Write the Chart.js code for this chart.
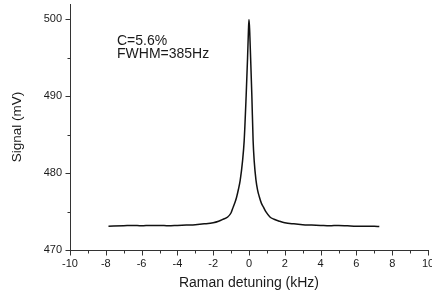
<!DOCTYPE html>
<html><head><meta charset="utf-8">
<script src="https://cdn.jsdelivr.net/npm/chart.js@4"></script>
<style>html,body{margin:0;padding:0;overflow:hidden;background:#fff}</style>
</head><body>
<canvas id="c" width="432" height="295"></canvas>
<script>
const detuning = [-7.85,-7.0,-6.5,-6.0,-5.5,-5.0,-4.5,-4.0,-3.5,-3.0,-2.5,-2.0,-1.7,-1.45,-1.19,-1.0,-0.88,-0.78,-0.69,-0.59,-0.49,-0.36,-0.27,-0.16,-0.08,-0.03,0,0.04,0.09,0.16,0.23,0.29,0.39,0.48,0.58,0.69,0.8,0.95,1.17,1.4,1.7,2.0,2.5,3.0,3.5,4.0,4.5,5.0,5.5,6.0,6.5,7.0,7.28];
const signal = [473.1,473.15,473.2,473.15,473.2,473.2,473.15,473.2,473.25,473.3,473.4,473.55,473.75,474.0,474.3,474.85,475.6,476.2,476.9,477.9,479.1,481.6,484.2,490.0,495.0,498.6,500.0,498.4,495.0,490.0,484.2,481.6,479.1,477.8,476.9,476.1,475.6,474.95,474.3,474.0,473.75,473.55,473.4,473.3,473.25,473.2,473.15,473.2,473.15,473.1,473.1,473.1,473.05];
const xTicks = [-10,-8,-6,-4,-2,0,2,4,6,8,10];
const xMinor = [-9,-7,-5,-3,-1,1,3,5,7,9];
const yTicks = [470,480,490,500];
const yMinor = [475,485,495];
const noteLines = ['C=5.6%','FWHM=385Hz'];

const FONT = '"Liberation Sans", Arial, sans-serif';
const INK = '#1a1a1a';
const AXIS = '#333';

const tickPlugin = {
  id: 'ticksAndNote',
  afterDraw(chart) {
    const {ctx, chartArea} = chart;
    const xs = chart.scales.x, ys = chart.scales.y;
    ctx.save();
    ctx.strokeStyle = AXIS; ctx.lineWidth = 1;
    ctx.beginPath();
    const b = Math.round(chartArea.bottom) + 0.5, l = Math.round(chartArea.left) + 0.5;
    xTicks.forEach(v => { const p = Math.round(xs.getPixelForValue(v)) + 0.5; ctx.moveTo(p, b); ctx.lineTo(p, b + 5); });
    xMinor.forEach(v => { const p = Math.round(xs.getPixelForValue(v)) + 0.5; ctx.moveTo(p, b); ctx.lineTo(p, b + 3); });
    yTicks.forEach(v => { const p = Math.round(ys.getPixelForValue(v)) + 0.5; ctx.moveTo(l, p); ctx.lineTo(l - 5, p); });
    yMinor.forEach(v => { const p = Math.round(ys.getPixelForValue(v)) + 0.5; ctx.moveTo(l, p); ctx.lineTo(l - 3, p); });
    ctx.stroke();
    ctx.fillStyle = INK;
    ctx.font = '14px ' + FONT;
    ctx.textBaseline = 'alphabetic';
    ctx.textAlign = 'left';
    noteLines.forEach((t, i) => ctx.fillText(t, chartArea.left + 47, chartArea.top + 41 + i * 13));
    ctx.restore();
  }
};

new Chart(document.getElementById('c'), {
  type: 'line',
  data: {
    datasets: [{
      data: detuning.map((x, i) => ({x, y: signal[i]})),
      borderColor: '#111',
      borderWidth: 1.5,
      pointRadius: 0,
      cubicInterpolationMode: 'monotone',
      fill: false
    }]
  },
  options: {
    responsive: false,
    animation: false,
    devicePixelRatio: 1,
    layout: {padding: {top: 4, right: 4, left: 0, bottom: 0}},
    plugins: {legend: {display: false}, tooltip: {enabled: false}},
    scales: {
      x: {
        type: 'linear', min: -10, max: 10,
        afterBuildTicks: s => { s.ticks = xTicks.map(v => ({value: v})); },
        afterFit: s => { s.height = 45; s.paddingLeft = 0; s.paddingRight = 0; },
        grid: {display: false, drawTicks: false},
        border: {display: true, color: AXIS, width: 1},
        ticks: {font: {family: FONT, size: 11}, color: INK, padding: 7, maxRotation: 0, autoSkip: false},
        title: {display: true, text: 'Raman detuning (kHz)', font: {family: FONT, size: 14}, color: INK, padding: {top: 0, bottom: 3}}
      },
      y: {
        type: 'linear', min: 470, max: 502,
        afterBuildTicks: s => { s.ticks = yTicks.map(v => ({value: v})); },
        afterFit: s => { s.width = 70; s.paddingTop = 0; s.paddingBottom = 0; },
        grid: {display: false, drawTicks: false},
        border: {display: true, color: AXIS, width: 1},
        ticks: {font: {family: FONT, size: 11}, color: INK, padding: 8, autoSkip: false},
        title: {display: true, text: 'Signal (mV)', font: {family: FONT, size: 13.5}, color: INK, padding: {top: 9, bottom: 0}}
      }
    }
  },
  plugins: [tickPlugin]
});
</script>
</body></html>
